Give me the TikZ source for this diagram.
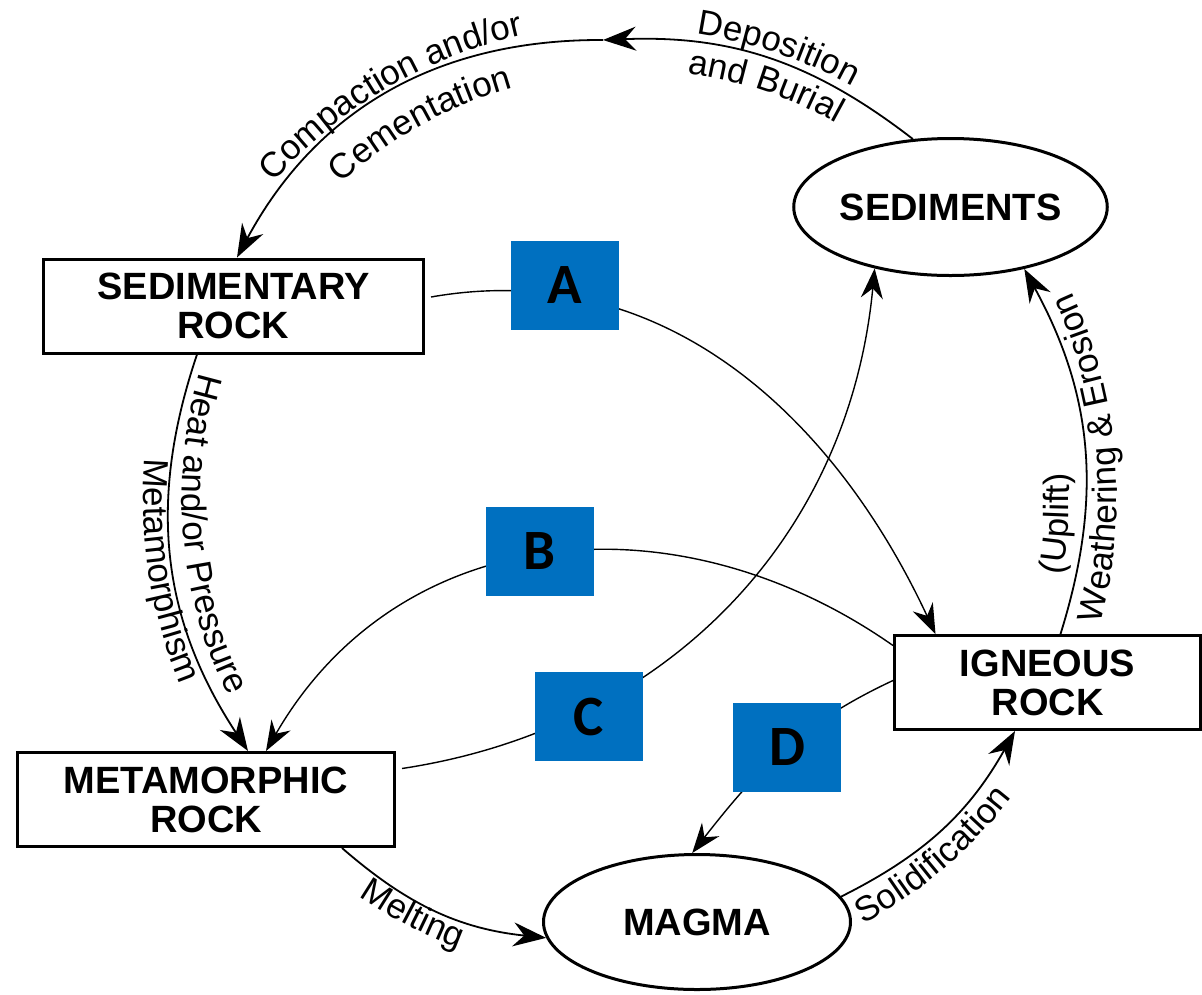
\documentclass[tikz,border=0pt]{standalone}
\usepackage{fontspec}
\setmainfont{Liberation Sans}
\newfontfamily\letterfont{Carlito}
\usetikzlibrary{arrows.meta,shapes.geometric,decorations.text}
\definecolor{boxblue}{HTML}{0070C0}
\newcommand{\lblfont}{\fontsize{35}{38}\selectfont}
\newcommand{\nodefont}{\fontsize{38}{39}\selectfont\bfseries}
\begin{document}
\begin{tikzpicture}[x=1pt,y=1pt,
  rockbox/.style={draw, line width=3pt, fill=white, rectangle, inner sep=0pt, align=center, font=\nodefont},
  rockoval/.style={draw, line width=3pt, fill=white, ellipse, inner sep=0pt, font=\nodefont},
  letterbox/.style={fill=boxblue, minimum width=108pt, minimum height=89pt, inner sep=0pt, font=\letterfont\fontsize{57}{57}\selectfont\bfseries},
  cyc/.style={line width=1.8pt, -{Stealth[length=33pt,width=24pt,inset=11pt]}},
  link/.style={line width=1.4pt, -{Stealth[length=30pt,width=22pt,inset=10pt]}},
  arclabel/.style={decorate, decoration={text along path, text align=center, text={|\lblfont|#1}}}
]
\useasboundingbox (0,0) rectangle (1202,-994);
\fill[white] (0,0) rectangle (1202,-994);

% main nodes
\node[rockbox, minimum width=380pt, minimum height=94pt] (sedrock) at (233.5,-306) {SEDIMENTARY\\ROCK};
\node[rockbox, minimum width=377pt, minimum height=94pt] (metrock) at (206,-799.5) {METAMORPHIC\\ROCK};
\node[rockbox, minimum width=306pt, minimum height=94pt] (igneous) at (1047.5,-682.5) {IGNEOUS\\ROCK};
\node[rockoval, minimum width=308pt, minimum height=137pt] (sediments) at (950.5,-207) {SEDIMENTS};
\node[rockoval, minimum width=307pt, minimum height=135pt] (magma) at (697,-922) {MAGMA};

\coordinate (top) at (603,-40);
\coordinate (O) at (628,-498);

% rock cycle arcs
\draw[cyc] (sediments.119) to[bend right=20] (top);
\draw[cyc] (top) to[bend right=31] ([xshift=3.5pt]sedrock.north);
\draw[cyc] ([xshift=-36.5pt]sedrock.south) to[bend right=26] ([xshift=42pt]metrock.north);
\draw[cyc] ([xshift=136pt]metrock.south) to[out=-41,in=174] (magma.186);
\draw[cyc] (magma.10) to[bend right=17] ([xshift=-32.5pt]igneous.south);
\draw[cyc] ([xshift=13pt]igneous.north) to[bend right=23] (sediments.-40);

% lettered connectors
\draw[link] ([xshift=6pt,yshift=9pt]sedrock.east) to[out=10,in=115] ([xshift=-112pt]igneous.north);
\draw[link] ([yshift=37pt]igneous.west) to[out=145,in=60,looseness=1.07] ([xshift=60pt]metrock.north);
\draw[link] ([xshift=6pt,yshift=31pt]metrock.east) to[bend right=38] (sediments.219);
\draw[link] ([yshift=2pt]igneous.west) to[out=205,in=52] (magma.94);

% blue letter boxes
\node[letterbox] (boxA) at (565,-285.5) {A};
\node[letterbox] (boxB) at (539.5,-551.5) {B};
\node[letterbox] (boxC) at (588.5,-716.5) {C};
\node[letterbox] (boxD) at (787,-747.5) {D};

% curved labels
\path[arclabel={Compaction and/or}] ([shift={(143:475)}]O) arc[start angle=143, end angle=98, radius=475];
\path[arclabel={Cementation}] ([shift={(134:426)}]O) arc[start angle=134, end angle=104, radius=426];
\path[arclabel={Deposition}] ([shift={(84:469)}]O) arc[start angle=84, end angle=59, radius=469];
\path[arclabel={and Burial}] ([shift={(84:429)}]O) arc[start angle=84, end angle=59, radius=429];
\path[arclabel={Heat and/or Pressure}] ([shift={(160:446)}]O) arc[start angle=160, end angle=210, radius=446];
\path[arclabel={Metamorphism}] ([shift={(173:485)}]O) arc[start angle=173, end angle=205, radius=485];
\path[arclabel={Weathering {\&} Erosion}] ([shift={(-20:489)}]O) arc[start angle=-20, end angle=30, radius=489];
\path[arclabel={(Uplift)}] ([shift={(-12:441)}]O) arc[start angle=-12, end angle=5.2, radius=441];
\path[arclabel={Solidification}] ([shift={(-64:487)}]O) arc[start angle=-64, end angle=-35, radius=487];
\path[arclabel={Melting}] ([shift={(233:481)}]O) arc[start angle=233, end angle=252.4, radius=481];
\end{tikzpicture}
\end{document}
